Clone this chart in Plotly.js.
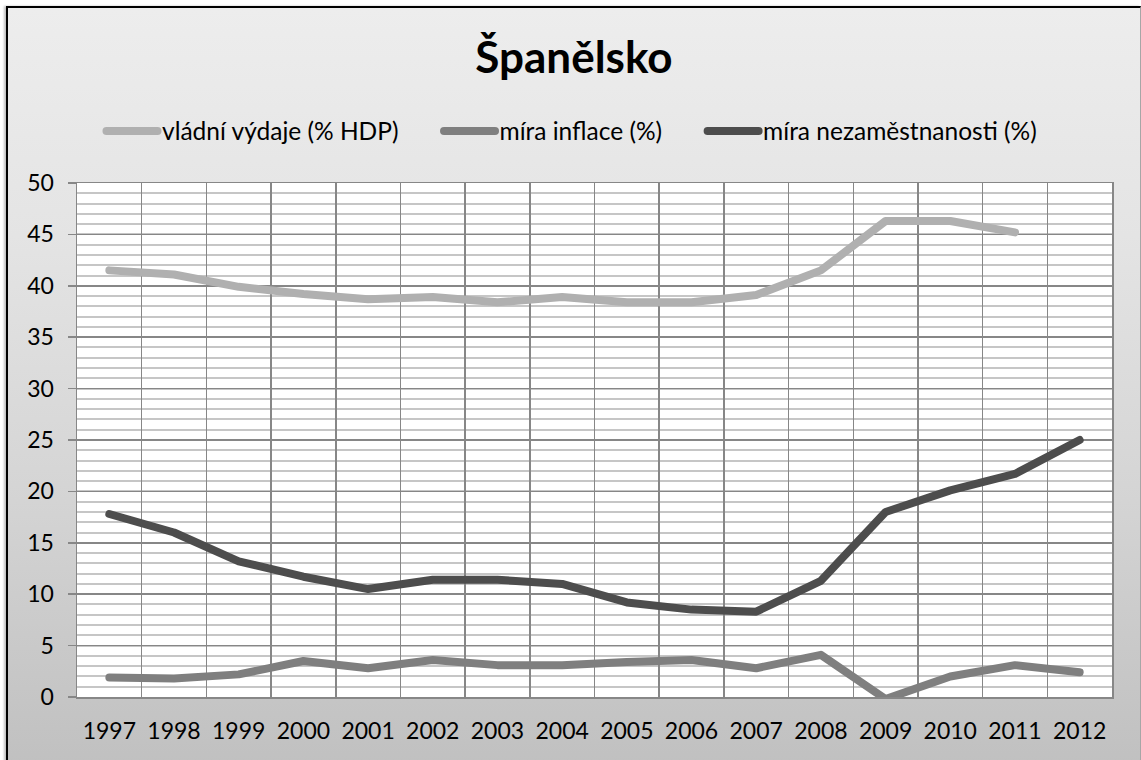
<!DOCTYPE html>
<html><head><meta charset="utf-8">
<script src="https://cdn.plot.ly/plotly-3.0.1.min.js"></script>
<style>
html,body{margin:0;padding:0;background:#fff;width:1141px;height:760px;overflow:hidden;}
#frame{position:absolute;left:6px;top:6px;width:1132px;height:760px;border-top:2px solid #000;border-left:2px solid #000;border-right:1px solid #a6a6a6;background:linear-gradient(to bottom,#ededed 0%,#e4e4e4 30%,#d4d4d4 65%,#c0c0c0 100%);box-shadow:-2px 0 2px rgba(0,0,0,0.25);}
#chart{position:absolute;left:0;top:0;width:1141px;height:760px;}
.scatterlayer .js-line, .legend .js-line {stroke-linecap:round;stroke-linejoin:round;}
.legend .legendlines path.js-line {d: path("M40.5,0h51");}
</style></head><body>
<div id="frame"></div><div id="chart"></div>
<script>
const years = ["1997","1998","1999","2000","2001","2002","2003","2004","2005","2006","2007","2008","2009","2010","2011","2012"];
const vydaje = [41.5, 41.1, 39.9, 39.2, 38.7, 38.9, 38.4, 38.9, 38.4, 38.4, 39.1, 41.5, 46.3, 46.3, 45.2, null];
const inflace = [1.9, 1.8, 2.2, 3.5, 2.8, 3.6, 3.1, 3.1, 3.4, 3.6, 2.8, 4.1, -0.2, 2.0, 3.1, 2.4];
const nezam = [17.8, 16.0, 13.2, 11.7, 10.5, 11.4, 11.4, 11.0, 9.2, 8.5, 8.3, 11.3, 18.0, 20.1, 21.7, 25.0];
const seriesNames = ["vládní výdaje (% HDP)", "míra inflace (%)", "míra nezaměstnanosti (%)"];
const seriesColors = ["#b0b0b0", "#7f7f7f", "#4d4d4d"];
const yTicks = [0,5,10,15,20,25,30,35,40,45,50];

const font = "Lato, 'Open Sans', sans-serif";
const data = [vydaje, inflace, nezam].map((v,i)=>({
  type:"scatter", mode:"lines", x:years, y:v, name:seriesNames[i],
  line:{color:seriesColors[i], width:8}, connectgaps:false, hoverinfo:"skip"
}));

const layout = {
  width:1141, height:760,
  paper_bgcolor:"rgba(0,0,0,0)", plot_bgcolor:"#ffffff",
  margin:{l:77, r:29, t:183, b:63},
  font:{family:font, color:"#000"},
  title:{text:"<b>Španělsko</b>", font:{family:font, size:44, color:"#000"}, xref:"container", x:0.503, xanchor:"center", yref:"container", y:1-58/760, yanchor:"middle"},
  showlegend:true,
  legend:{orientation:"h", xref:"container", yref:"container", x:66/1141, xanchor:"left", y:1-131/760, yanchor:"middle", font:{family:font, size:24.5, color:"#000"}, bgcolor:"rgba(0,0,0,0)", itemwidth:86},
  xaxis:{type:"category", range:[-0.5,15.5], tickson:"boundaries", ticks:"", showgrid:true, gridcolor:"#878787", gridwidth:1.5,
    showline:true, linecolor:"#878787", linewidth:1.5, mirror:true, tickfont:{family:font, size:23, color:"#000"}, ticklabelstandoff:13, fixedrange:true},
  yaxis:{range:[0,50], tickvals:yTicks, ticktext:yTicks.map(String), ticks:"outside", ticklen:8, tickcolor:"#878787", tickwidth:1.5,
    showgrid:true, gridcolor:"#878787", gridwidth:1.5, zeroline:false, showline:true, linecolor:"#878787", linewidth:1.5, mirror:true,
    minor:{dtick:1, showgrid:true, gridcolor:"#c6c6c6", gridwidth:2, ticks:""},
    tickfont:{family:font, size:23, color:"#000"}, ticklabelstandoff:9, fixedrange:true},
  hovermode:false
};
Plotly.newPlot("chart", data, layout, {displayModeBar:false, staticPlot:true});
</script>
</body></html>
